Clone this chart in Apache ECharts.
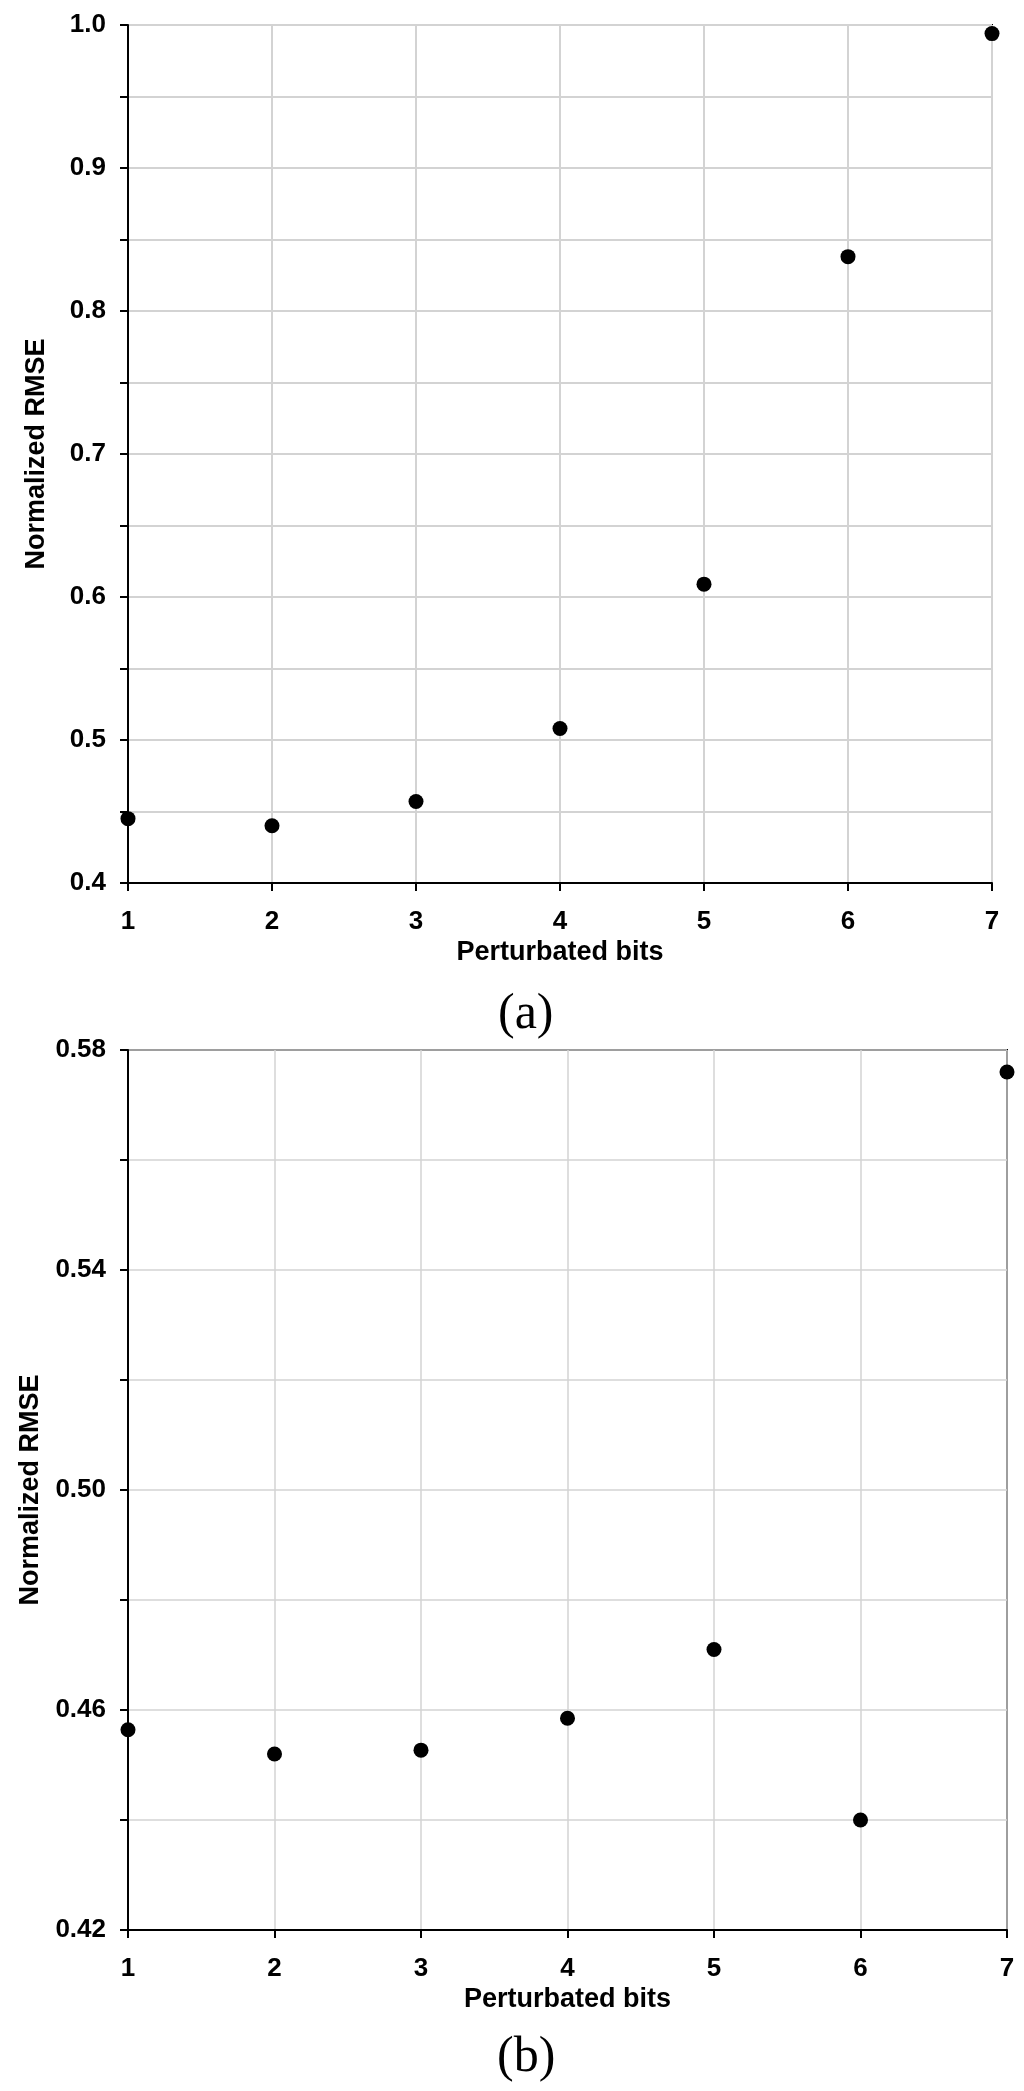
<!DOCTYPE html>
<html>
<head>
<meta charset="utf-8">
<script src="https://cdn.jsdelivr.net/npm/echarts@6/dist/echarts.min.js"></script>
<style>
html,body{margin:0;padding:0;background:#fff;}
#c{width:1024px;height:2091px;}
</style>
</head>
<body>
<div id="c"></div>
<script>
var bits = [1, 2, 3, 4, 5, 6, 7];
var rmseA = [0.445, 0.440, 0.457, 0.508, 0.609, 0.838, 0.994];
var rmseB = [0.4564, 0.452, 0.4527, 0.4585, 0.471, 0.440, 0.576];
var panelLabels = ['(a)', '(b)'];
var xName = 'Perturbated bits';
var yName = 'Normalized RMSE';

var SANS = '"Liberation Sans", Arial, sans-serif';
var SERIF = '"Liberation Serif", "Times New Roman", serif';

function pairs(xs, ys) { return xs.map(function (x, i) { return [x, ys[i]]; }); }

function xAxisCfg(gi) {
  return {
    type: 'value', gridIndex: gi, min: 1, max: 7, interval: 1,
    name: xName, nameLocation: 'middle', nameGap: 56,
    nameTextStyle: { fontFamily: SANS, fontWeight: 'bold', fontSize: 27, color: '#000' },
    axisLine: { show: true, lineStyle: { color: '#000', width: 2 } },
    axisTick: { show: true, inside: false, length: 8, lineStyle: { color: '#000', width: 2 } },
    axisLabel: { margin: 26, fontFamily: SANS, fontWeight: 'bold', fontSize: 26, color: '#000', showMinLabel: true, showMaxLabel: true, hideOverlap: false },
    splitLine: { show: true, lineStyle: { color: '#d3d3d3', width: gi === 0 ? 2 : 1.5 } }
  };
}
function yAxisCfg(gi, min, max, interval, labelStep, dec) {
  return {
    type: 'value', gridIndex: gi, min: min, max: max, interval: interval,
    name: yName, nameLocation: 'middle', nameGap: 78,
    nameTextStyle: { fontFamily: SANS, fontWeight: 'bold', fontSize: 27, color: '#000' },
    axisLine: { show: true, lineStyle: { color: '#000', width: 2 } },
    axisTick: { show: true, inside: false, length: 8, lineStyle: { color: '#000', width: 2 } },
    axisLabel: {
      margin: 22, fontFamily: SANS, fontWeight: 'bold', fontSize: 26, color: '#000', hideOverlap: false,
      formatter: function (v) {
        var k = (v - min) / labelStep;
        return Math.abs(k - Math.round(k)) < 1e-6 ? v.toFixed(dec) : '';
      }
    },
    splitLine: { show: true, lineStyle: { color: '#d3d3d3', width: gi === 0 ? 2 : 1.5 } }
  };
}

var chart = echarts.init(document.getElementById('c'), null, { renderer: 'canvas' });
chart.setOption({
  backgroundColor: '#fff',
  animation: false,
  grid: [
    { left: 128, top: 25, right: 32, bottom: 1208, show: true, borderColor: '#000', borderWidth: 2, backgroundColor: 'transparent' },
    { left: 128, top: 1050, right: 17, bottom: 161, show: true, borderColor: '#000', borderWidth: 2, backgroundColor: 'transparent' }
  ],
  xAxis: [xAxisCfg(0), xAxisCfg(1)],
  yAxis: [yAxisCfg(0, 0.4, 1.0, 0.05, 0.1, 1), yAxisCfg(1, 0.42, 0.58, 0.02, 0.04, 2)],
  series: [
    { type: 'scatter', xAxisIndex: 0, yAxisIndex: 0, data: pairs(bits, rmseA), symbol: 'circle', symbolSize: 15, itemStyle: { color: '#000', opacity: 1 }, clip: false, z: 5 },
    { type: 'scatter', xAxisIndex: 1, yAxisIndex: 1, data: pairs(bits, rmseB), symbol: 'circle', symbolSize: 15, itemStyle: { color: '#000', opacity: 1 }, clip: false, z: 5 }
  ],
  graphic: [
    { type: 'text', left: 498, top: 990, style: { text: panelLabels[0], font: '50px ' + SERIF, fill: '#000' } },
    { type: 'text', left: 497, top: 2033, style: { text: panelLabels[1], font: '50px ' + SERIF, fill: '#000' } }
  ]
});
</script>
</body>
</html>
